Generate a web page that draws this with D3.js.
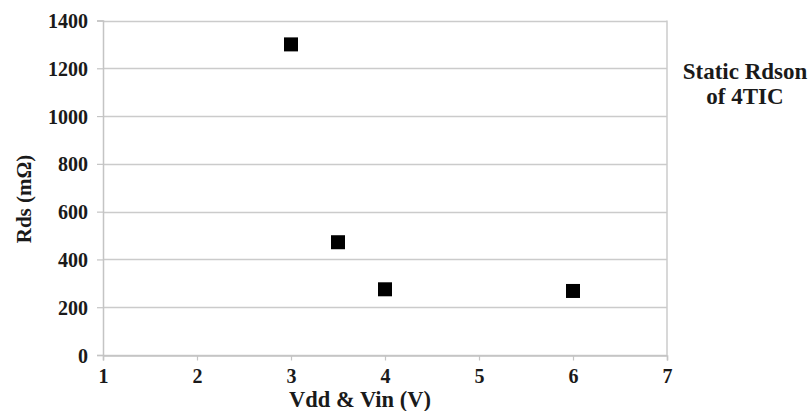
<!DOCTYPE html>
<html>
<head>
<meta charset="utf-8">
<script src="https://cdn.jsdelivr.net/npm/d3@7"></script>
<style>
  body { margin: 0; background: #fff; }
  text { font-family: "Liberation Serif", "Times New Roman", serif; font-weight: bold; fill: #1a1a1a; }
</style>
</head>
<body>
<div id="chart"></div>
<script>
// data
const vdd = [3, 3.5, 4, 6];
const rds = [1300, 472, 275, 268];
const xTicks = [1, 2, 3, 4, 5, 6, 7];
const yTicks = [0, 200, 400, 600, 800, 1000, 1200, 1400];

const width = 812, height = 411;
const margin = { top: 20.5, right: 145, bottom: 56, left: 103 };

const svg = d3.select('#chart')
  .append('svg')
  .attr('width', width)
  .attr('height', height);

const x = d3.scaleLinear()
  .domain([1, 7])
  .range([margin.left, width - margin.right]);

const y = d3.scaleLinear()
  .domain([0, 1400])
  .range([height - margin.bottom, margin.top]);

/* ------- GRID ------- */
svg.append('g')
  .selectAll('line')
  .data(yTicks)
  .enter()
  .append('line')
  .attr('x1', x(1))
  .attr('x2', x(7))
  .attr('y1', d => Math.round(y(d)) + 0.5)
  .attr('y2', d => Math.round(y(d)) + 0.5)
  .attr('stroke', '#cbcbcb')
  .attr('stroke-width', 1.5);

// right border
svg.append('line')
  .attr('x1', x(7)).attr('x2', x(7))
  .attr('y1', y(1400)).attr('y2', y(0))
  .attr('stroke', '#cbcbcb')
  .attr('stroke-width', 1.5);

/* ------- AXES ------- */
const xAxis = svg.append('g')
  .attr('transform', `translate(0,${Math.round(y(0)) + 0.5})`)
  .call(d3.axisBottom(x).tickValues(xTicks).tickFormat(d3.format('d')).tickSize(5).tickPadding(8));

const yAxis = svg.append('g')
  .attr('transform', `translate(${x(1)},0)`)
  .call(d3.axisLeft(y).tickValues(yTicks).tickFormat(d3.format('d')).tickSize(6).tickPadding(9));

[xAxis, yAxis].forEach(g => {
  g.select('.domain').attr('stroke', '#c4c4c4').attr('stroke-width', 1.5);
  g.selectAll('.tick line').attr('stroke', '#c4c4c4').attr('stroke-width', 1.2);
  g.selectAll('.tick text')
    .style('font-size', '20px')
    .style('font-family', '"Liberation Serif", serif')
    .style('font-weight', 'bold')
    .attr('fill', '#1a1a1a');
});
yAxis.selectAll('.tick text').attr('dy', '0.35em');

/* ------- POINTS ------- */
const size = 14;
svg.append('g')
  .selectAll('rect')
  .data(vdd.map((v, i) => ({ v, r: rds[i] })))
  .enter()
  .append('rect')
  .attr('x', d => x(d.v) - size / 2)
  .attr('y', d => y(d.r) - size / 2)
  .attr('width', size)
  .attr('height', size)
  .attr('fill', '#000');

/* ------- TITLES ------- */
svg.append('text')
  .attr('x', 360)
  .attr('y', 407)
  .attr('text-anchor', 'middle')
  .style('font-size', '22.5px')
  .text('Vdd & Vin (V)');

svg.append('text')
  .attr('transform', 'translate(31,199) rotate(-90)')
  .attr('text-anchor', 'middle')
  .style('font-size', '21px')
  .text('Rds (mΩ)');

const legend = svg.append('text')
  .attr('text-anchor', 'middle')
  .style('font-size', '23px');
legend.append('tspan').attr('x', 745).attr('y', 79).text('Static Rdson');
legend.append('tspan').attr('x', 745).attr('y', 104).text('of 4TIC');
</script>
</body>
</html>
